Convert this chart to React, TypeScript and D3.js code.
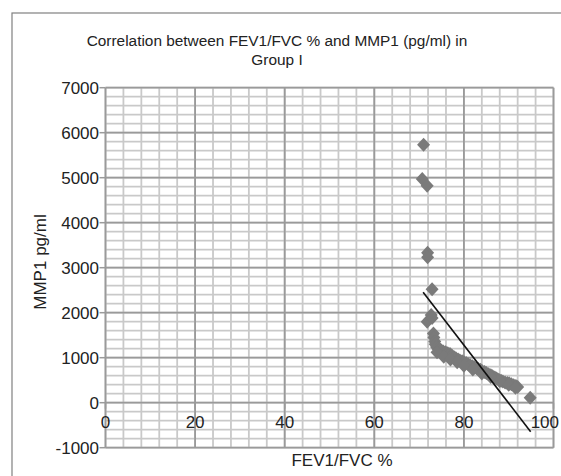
import React from "react";
import * as d3 from "d3";

const titleLines = ["Correlation between FEV1/FVC % and MMP1 (pg/ml) in", "Group I"];
const xAxisTitle = "FEV1/FVC %";
const yAxisTitle = "MMP1 pg/ml";

const xTicks = [0, 20, 40, 60, 80, 100];
const yTicks = [-1000, 0, 1000, 2000, 3000, 4000, 5000, 6000, 7000];

const fevValues = [
  71.0, 70.7, 71.8, 71.9, 71.9, 72.9, 72.7, 71.8, 72.9,
  73.2, 73.3, 73.5, 73.6, 73.9, 74.2, 74.6, 75.0, 75.4, 75.9, 76.4, 76.9, 77.3, 77.8,
  78.2, 78.7, 79.1, 79.6, 80.0, 80.5, 81.0, 81.4, 81.9, 82.3, 82.8, 83.2, 83.7, 84.1,
  84.6, 85.0, 85.5, 86.0, 86.4, 86.9, 87.3, 87.8, 88.3, 88.7, 89.2, 89.7, 90.1, 90.6,
  91.1, 91.6, 92.0, 74.0, 75.5, 77.0, 78.5, 80.0, 82.0, 84.0, 86.0, 88.0, 90.0, 91.5,
  94.8,
];
const mmpValues = [
  5730, 4970, 4820, 3330, 3230, 2520, 1950, 1800, 1880,
  1540, 1450, 1360, 1300, 1240, 1200, 1180, 1160, 1140, 1120, 1100, 1080, 1050, 1010,
  990, 960, 940, 920, 900, 880, 850, 830, 810, 790, 770, 750, 730, 700,
  680, 660, 630, 610, 590, 560, 540, 510, 490, 470, 450, 440, 430, 410,
  390, 370, 350, 1120, 1020, 960, 900, 820, 740, 650, 570, 480, 400, 330,
  110,
];

const trendStart = 70.9;
const trendEnd = 94.9;
const trendIntercept = 11599;
const trendSlope = -129;

export default function App() {
  const W = 561;
  const H = 476;
  const x = d3.scaleLinear().domain([0, 100]).range([105.5, 553.5]);
  const y = d3.scaleLinear().domain([-1000, 7000]).range([447.7, 87.7]);
  const minorX = d3.range(0, 100.001, 4);
  const minorY = d3.range(-1000, 7000.001, 200);
  const font = "Liberation Sans, Arial, sans-serif";
  const pts = fevValues.map((v, i) => [v, mmpValues[i]] as [number, number]);
  const diamond = (cx: number, cy: number) =>
    `M${cx},${cy - 7}L${cx + 6.5},${cy}L${cx},${cy + 7}L${cx - 6.5},${cy}Z`;
  const line = d3.line<number>().x((d) => x(d)).y((d) => y(trendIntercept + trendSlope * d));
  const tickFs = 17;
  const labelX = (v: number) => {
    const w = String(v).length * 0.556 * tickFs;
    return Math.min(x(v), 559 - w / 2);
  };

  return (
    <svg width={W} height={H} style={{ position: "absolute", left: 0, top: 0, background: "#fff" }}>
      <rect x={12} y={13} width={600} height={500} fill="#fff" stroke="#808080" strokeWidth={1.2} />
      {titleLines.map((t, i) => (
        <text key={t} x={277} y={46 + i * 18.5} textAnchor="middle" fontFamily={font} fontSize={15.4} fill="#222">
          {t}
        </text>
      ))}
      <g>
        {minorX.map((v) => (
          <line key={"mx" + v} x1={x(v)} x2={x(v)} y1={y(7000)} y2={y(-1000)} stroke="#c9c9c9" strokeWidth={1.8} />
        ))}
        {minorY.map((v) => (
          <line key={"my" + v} x1={x(0)} x2={x(100)} y1={y(v)} y2={y(v)} stroke="#c9c9c9" strokeWidth={1.8} />
        ))}
        {xTicks.map((v) => (
          <line key={"Mx" + v} x1={x(v)} x2={x(v)} y1={y(7000)} y2={y(-1000)} stroke="#9a9a9a" strokeWidth={1.8} />
        ))}
        {yTicks.map((v) => (
          <line key={"My" + v} x1={x(0)} x2={x(100)} y1={y(v)} y2={y(v)} stroke="#9a9a9a" strokeWidth={1.8} />
        ))}
        {yTicks.map((v) => (
          <line key={"ty" + v} x1={x(0) - 6} x2={x(0)} y1={y(v)} y2={y(v)} stroke="#9a9a9a" strokeWidth={1.5} />
        ))}
        {xTicks.map((v) => (
          <line key={"tx" + v} x1={x(v)} x2={x(v)} y1={y(0)} y2={y(0) + 6} stroke="#9a9a9a" strokeWidth={1.5} />
        ))}
      </g>
      {yTicks.map((v) => (
        <text key={"yl" + v} x={99} y={y(v)} dy="0.35em" textAnchor="end" fontFamily={font} fontSize={tickFs} fill="#222">
          {v}
        </text>
      ))}
      {xTicks.map((v) => (
        <text key={"xl" + v} x={labelX(v)} y={421.7} dy="0.35em" textAnchor="middle" fontFamily={font} fontSize={tickFs} fill="#222">
          {v}
        </text>
      ))}
      {pts.map(([a, b], i) => (
        <path key={"p" + i} d={diamond(x(a), y(b))} fill="#7a7a7a" />
      ))}
      <path d={line([trendStart, trendEnd]) || ""} stroke="#111" strokeWidth={1.6} fill="none" />
      <text x={342} y={466} textAnchor="middle" fontFamily={font} fontSize={17} fill="#222">
        {xAxisTitle}
      </text>
      <text
        transform={`translate(46,${262}) rotate(-90)`}
        textAnchor="middle"
        fontFamily={font}
        fontSize={17}
        fill="#222"
      >
        {yAxisTitle}
      </text>
    </svg>
  );
}
